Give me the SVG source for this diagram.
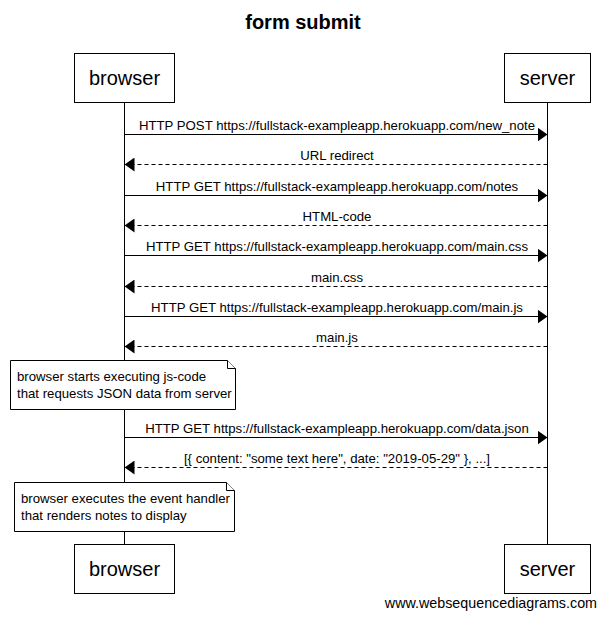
<svg xmlns="http://www.w3.org/2000/svg" width="605" height="617" viewBox="0 0 605 617">
<defs>
<style>
text{font-family:"Liberation Sans",Arial,sans-serif;fill:#000}
.box{fill:#fff;stroke:#000;stroke-width:1}
.life{stroke:#000;stroke-width:1}
.msg{stroke:#000;stroke-width:1;fill:none}
.ret{stroke:#000;stroke-width:1;fill:none;stroke-dasharray:4,3}
.lbl{font-size:13.2px;text-anchor:middle}
.actor{font-size:20px;text-anchor:middle}
.note{fill:#fff;stroke:#000;stroke-width:1}
.nt{font-size:13.2px}
</style>
<marker id="ah" viewBox="0 0 10 14" refX="10" refY="7" markerWidth="10" markerHeight="14" markerUnits="userSpaceOnUse" orient="auto">
<path d="M0,0 L10,7 L0,14 Z" fill="#000"/>
</marker>
</defs>
<rect width="605" height="617" fill="#fff"/>
<text x="303" y="29" font-size="20" font-weight="bold" text-anchor="middle">form submit</text>
<g id="lifelines">
<line class="life" x1="124.5" y1="102" x2="124.5" y2="545"/>
<line class="life" x1="547.5" y1="102" x2="547.5" y2="545"/>
</g>
<g id="browser-top"><rect class="box" x="74.5" y="53.5" width="100" height="49"/><text class="actor" x="124.5" y="85">browser</text></g>
<g id="server-top"><rect class="box" x="504.5" y="53.5" width="86" height="49"/><text class="actor" x="547.5" y="85">server</text></g>
<g id="browser-bottom"><rect class="box" x="74.5" y="544.5" width="100" height="49"/><text class="actor" x="124.5" y="576">browser</text></g>
<g id="server-bottom"><rect class="box" x="504.5" y="544.5" width="86" height="49"/><text class="actor" x="547.5" y="576">server</text></g>
<g id="connectors">
<line class="msg" x1="124.5" y1="134.5" x2="547.5" y2="134.5" marker-end="url(#ah)"/>
<text class="lbl" x="337" y="130">HTTP POST https://fullstack-exampleapp.herokuapp.com/new_note</text>
<line class="ret" x1="547.5" y1="164.5" x2="124.5" y2="164.5" marker-end="url(#ah)"/>
<text class="lbl" x="337" y="160">URL redirect</text>
<line class="msg" x1="124.5" y1="195.5" x2="547.5" y2="195.5" marker-end="url(#ah)"/>
<text class="lbl" x="337" y="191">HTTP GET https://fullstack-exampleapp.herokuapp.com/notes</text>
<line class="ret" x1="547.5" y1="225.5" x2="124.5" y2="225.5" marker-end="url(#ah)"/>
<text class="lbl" x="337" y="221">HTML-code</text>
<line class="msg" x1="124.5" y1="255.5" x2="547.5" y2="255.5" marker-end="url(#ah)"/>
<text class="lbl" x="337" y="251">HTTP GET https://fullstack-exampleapp.herokuapp.com/main.css</text>
<line class="ret" x1="547.5" y1="286.5" x2="124.5" y2="286.5" marker-end="url(#ah)"/>
<text class="lbl" x="337" y="282">main.css</text>
<line class="msg" x1="124.5" y1="316.5" x2="547.5" y2="316.5" marker-end="url(#ah)"/>
<text class="lbl" x="337" y="312">HTTP GET https://fullstack-exampleapp.herokuapp.com/main.js</text>
<line class="ret" x1="547.5" y1="346.5" x2="124.5" y2="346.5" marker-end="url(#ah)"/>
<text class="lbl" x="337" y="342">main.js</text>
<line class="msg" x1="124.5" y1="437.5" x2="547.5" y2="437.5" marker-end="url(#ah)"/>
<text class="lbl" x="337" y="433">HTTP GET https://fullstack-exampleapp.herokuapp.com/data.json</text>
<line class="ret" x1="547.5" y1="467.5" x2="124.5" y2="467.5" marker-end="url(#ah)"/>
<text class="lbl" x="337" y="463">[{ content: "some text here", date: "2019-05-29" }, ...]</text>
</g>
<g id="note1">
<path class="note" d="M10.5,360.5 H227.5 L235.5,368.5 V409.5 H10.5 Z"/>
<path class="note" d="M227.5,360.5 V368.5 H235.5"/>
<text class="nt" x="17" y="381">browser starts executing js-code</text>
<text class="nt" x="17" y="398">that requests JSON data from server</text>
</g>
<g id="note2">
<path class="note" d="M14.5,482.5 H226.5 L234.5,490.5 V531.5 H14.5 Z"/>
<path class="note" d="M226.5,482.5 V490.5 H234.5"/>
<text class="nt" x="21" y="503">browser executes the event handler</text>
<text class="nt" x="21" y="520">that renders notes to display</text>
</g>
<text x="597" y="608" font-size="14.3" text-anchor="end">www.websequencediagrams.com</text>
</svg>
